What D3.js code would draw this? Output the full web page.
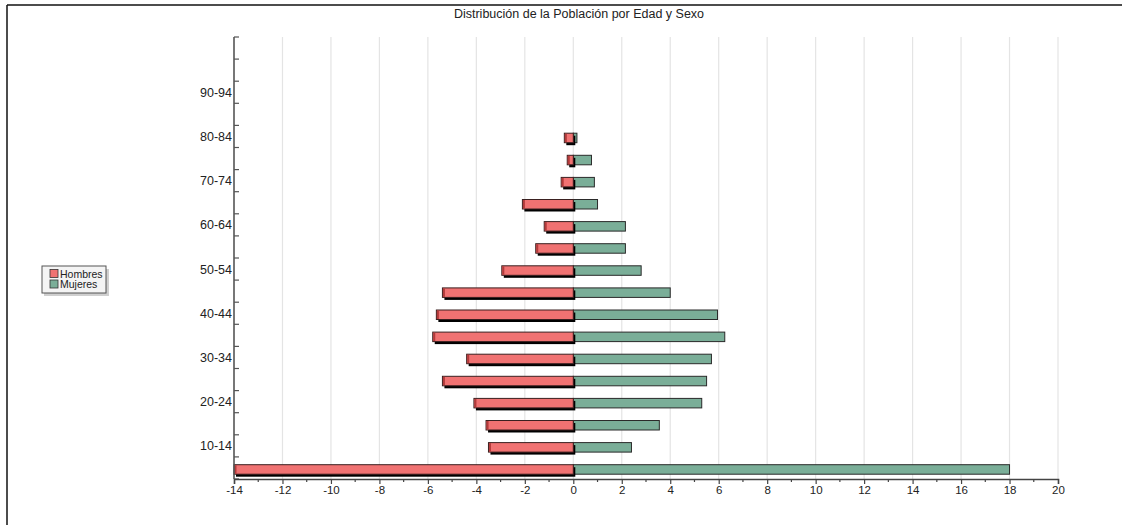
<!DOCTYPE html>
<html>
<head>
<meta charset="utf-8">
<script src="https://cdn.jsdelivr.net/npm/d3@7"></script>
<style>
  html, body { margin: 0; padding: 0; background: #fff; }
  svg { display: block; font-family: "Liberation Sans", Arial, sans-serif; }
</style>
</head>
<body>
<svg id="chart" width="1132" height="525"></svg>
<script>
// Age bands, bottom to top
const categories = ["5-9","10-14","15-19","20-24","25-29","30-34","35-39","40-44","45-49","50-54",
                    "55-59","60-64","65-69","70-74","75-79","80-84","85-89","90-94","95-99","100-104"];
const shownLabels = ["10-14","20-24","30-34","40-44","50-54","60-64","70-74","80-84","90-94"];
const hombres = [-14.0, -3.5, -3.6, -4.1, -5.4, -4.4, -5.8, -5.65, -5.4, -2.95, -1.55, -1.2, -2.1, -0.5, -0.25, -0.37];
const mujeres = [18.0, 2.4, 3.55, 5.3, 5.5, 5.7, 6.25, 5.95, 4.0, 2.8, 2.15, 2.15, 1.0, 0.87, 0.75, 0.15];
const xTicks = [-14,-12,-10,-8,-6,-4,-2,0,2,4,6,8,10,12,14,16,18,20];
const title = "Distribución de la Población por Edad y Sexo";
const seriesNames = ["Hombres", "Mujeres"];

const svg = d3.select("#chart");

// page frame lines
svg.append("line").attr("x1", 7).attr("x2", 1122).attr("y1", 5).attr("y2", 5)
  .attr("stroke", "#111").attr("stroke-width", 1.5);
svg.append("line").attr("x1", 7).attr("x2", 7).attr("y1", 5).attr("y2", 525)
  .attr("stroke", "#111").attr("stroke-width", 1.5);

svg.append("text").attr("x", 579).attr("y", 18).attr("text-anchor", "middle")
  .attr("font-size", "12.5px").attr("fill", "#222").text(title);

const x = d3.scaleLinear().domain([-14, 20]).range([234, 1058]);
const y = d3.scaleBand().domain(categories).range([479, 37]).padding(0);

const plotTop = 37, plotBottom = 479;

// gridlines
svg.append("g").selectAll("line").data(xTicks.filter(t => t !== -14)).join("line")
  .attr("x1", d => x(d)).attr("x2", d => x(d)).attr("y1", plotTop).attr("y2", plotBottom)
  .attr("stroke", "#e4e4e4").attr("stroke-width", 1.2);

// bars
const barH = 9.5;
const data = hombres.map((h, i) => ({ cat: categories[i], h: h, m: mujeres[i] }));
const g = svg.append("g");
data.forEach(d => {
  const yc = y(d.cat) + y.bandwidth() / 2 + 1.5;
  const y0 = yc - barH / 2;
  g.append("rect").attr("x", x(0)).attr("y", y0).attr("width", x(d.m) - x(0)).attr("height", barH)
    .attr("fill", "#7aae98").attr("stroke", "#2a2a2a").attr("stroke-width", 1);
  g.append("rect").attr("x", x(d.h) + 2).attr("y", y0 + 2.5).attr("width", x(0) - x(d.h)).attr("height", barH)
    .attr("fill", "#000");
  g.append("rect").attr("x", x(d.h)).attr("y", y0).attr("width", x(0) - x(d.h)).attr("height", barH)
    .attr("fill", "#f07272").attr("stroke", "#3a2020").attr("stroke-width", 1);
  g.append("rect").attr("x", x(d.h) + 0.5).attr("y", y0 + 0.5).attr("width", 2).attr("height", barH - 1)
    .attr("fill", "#b33a3a");
});

// Y axis
const yAxisG = svg.append("g");
yAxisG.append("line").attr("x1", 234).attr("x2", 234).attr("y1", plotTop).attr("y2", plotBottom)
  .attr("stroke", "#555").attr("stroke-width", 1.6);
const boundaries = categories.map(c => y(c)).concat([plotBottom]);
yAxisG.selectAll("line.tick").data(boundaries).join("line").attr("class", "tick")
  .attr("x1", 234).attr("x2", 239).attr("y1", d => d).attr("y2", d => d)
  .attr("stroke", "#555").attr("stroke-width", 1.2);
yAxisG.selectAll("text").data(shownLabels).join("text")
  .attr("x", 232).attr("y", d => y(d) + y.bandwidth() / 2 + 4.5)
  .attr("text-anchor", "end").attr("font-size", "12.5px").attr("fill", "#222").text(d => d);

// X axis
const xAxis = d3.axisBottom(x).tickValues(xTicks).tickSize(5).tickPadding(2).tickFormat(d => String(d));
const xg = svg.append("g").attr("transform", `translate(0,${plotBottom})`).call(xAxis);
xg.select(".domain").attr("stroke", "#444").attr("stroke-width", 1.5);
xg.selectAll(".tick line").attr("stroke", "#444").attr("stroke-width", 1.2);
xg.selectAll(".tick text").attr("font-size", "11.5px").attr("fill", "#222")
  .attr("font-family", "Liberation Sans, Arial, sans-serif");
const minor = d3.range(-13, 20, 2);
svg.append("g").selectAll("line").data(minor).join("line")
  .attr("x1", d => x(d)).attr("x2", d => x(d)).attr("y1", plotBottom).attr("y2", plotBottom + 3)
  .attr("stroke", "#444").attr("stroke-width", 1.2);

// legend
const lg = svg.append("g");
lg.append("rect").attr("x", 44).attr("y", 269).attr("width", 65).attr("height", 27).attr("fill", "#cfcfcf");
lg.append("rect").attr("x", 42).attr("y", 266).attr("width", 64).attr("height", 27)
  .attr("fill", "#f4f4f4").attr("stroke", "#555").attr("stroke-width", 1);
const colors = ["#f07272", "#7aae98"];
seriesNames.forEach((n, i) => {
  lg.append("rect").attr("x", 50).attr("y", 269.5 + i * 10.5).attr("width", 8).attr("height", 8)
    .attr("fill", colors[i]).attr("stroke", "#333").attr("stroke-width", 0.8);
  lg.append("text").attr("x", 60).attr("y", 277.5 + i * 10.5).attr("font-size", "10.5px").attr("fill", "#222").text(n);
});
</script>
</body>
</html>
